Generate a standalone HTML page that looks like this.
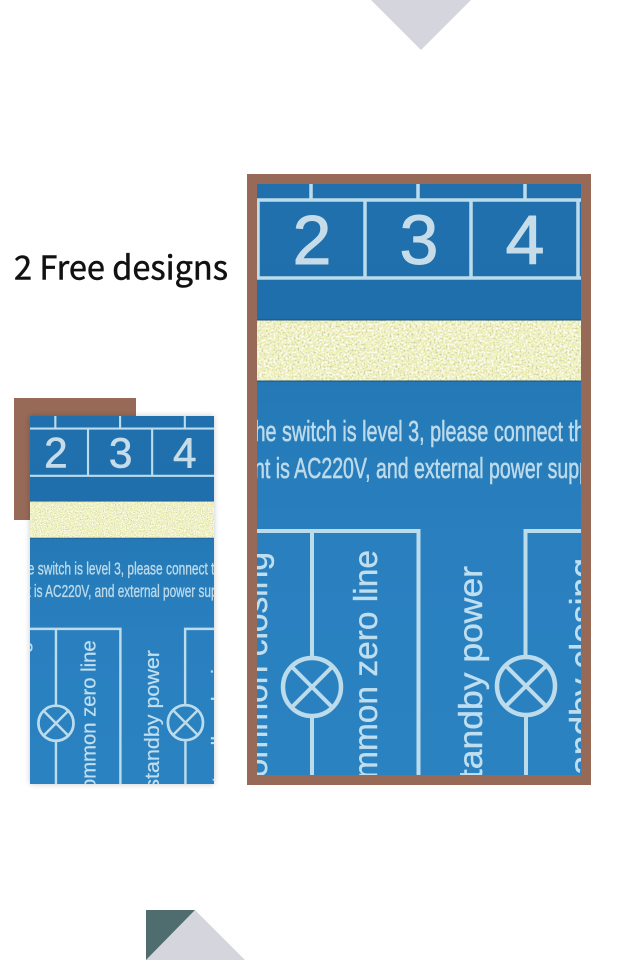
<!DOCTYPE html>
<html>
<head>
<meta charset="utf-8">
<style>
html,body{margin:0;padding:0;background:#fff;width:640px;height:960px;overflow:hidden}
svg{display:block}
.l{stroke:#bcdcec;fill:none}
.n{font-family:"Liberation Sans",sans-serif;font-size:70px;fill:#c6dde9;stroke:#c6dde9;stroke-width:1px;text-anchor:middle}
.t{font-family:"Liberation Sans",sans-serif;font-size:29px;fill:#bcdaea;stroke:#bcdaea;stroke-width:.6px}
.r{font-family:"Liberation Sans",sans-serif;font-size:33.5px;fill:#bfdeef;stroke:#bfdeef;stroke-width:.4px;text-anchor:end}
</style>
</head>
<body>
<svg width="640" height="960" viewBox="0 0 640 960" xmlns="http://www.w3.org/2000/svg">
<defs>
<linearGradient id="bg" x1="0" y1="0" x2="0" y2="1">
<stop offset="0" stop-color="#1f70ad"/>
<stop offset="0.24" stop-color="#1f6fad"/>
<stop offset="0.35" stop-color="#2479b6"/>
<stop offset="0.6" stop-color="#2a80bf"/>
<stop offset="1" stop-color="#2b82c1"/>
</linearGradient>
<filter id="speck" x="0" y="0" width="100%" height="100%">
<feTurbulence type="fractalNoise" baseFrequency="0.5" numOctaves="3" seed="4" result="n"/>
<feColorMatrix in="n" type="matrix" values="0 0 0 0 0.6  0 0 0 0 0.62  0 0 0 0 0.35  4 0 0 0 -2.1" result="d"/>
<feColorMatrix in="n" type="matrix" values="0 0 0 0 1  0 0 0 0 1  0 0 0 0 0.95  0 5 0 0 -2.3" result="w"/>
<feMerge result="m"><feMergeNode in="SourceGraphic"/><feMergeNode in="w"/><feMergeNode in="d"/></feMerge>
<feComposite in="m" in2="SourceGraphic" operator="in"/>
</filter>
<filter id="sh" x="-10%" y="-10%" width="120%" height="120%">
<feGaussianBlur stdDeviation="3"/>
</filter>
<clipPath id="cl"><rect x="257" y="184" width="324" height="591"/></clipPath>
<clipPath id="cs"><rect x="30" y="416" width="184" height="368"/></clipPath>
</defs>

<rect width="640" height="960" fill="#fff"/>

<polygon points="371,0 471,0 421,50" fill="#d5d5dd"/>
<polygon points="195,910 245,960 146,960" fill="#d5d5dd"/>
<polygon points="146,910 195,910 146,960" fill="#4f6d6f"/>

<text x="14" y="279.5" font-family="'Noto Sans CJK SC','Liberation Sans',sans-serif" font-size="33" fill="#111" stroke="#111" stroke-width="0.5" textLength="214" lengthAdjust="spacingAndGlyphs">2 Free designs</text>

<rect x="14" y="398" width="122" height="122" fill="#966a56"/>
<rect x="30" y="416" width="184" height="368" fill="#000" opacity="0.22" filter="url(#sh)"/>

<!-- small picture -->
<g clip-path="url(#cs)">
<g transform="translate(-132.8 307.6) scale(0.605)">
<rect x="250" y="170" width="340" height="625" fill="url(#bg)"/>
<rect x="250" y="320" width="340" height="61" fill="#eef0b4" filter="url(#speck)"/>
<path d="M250 320H590M250 381H590" stroke="#1b4f75" stroke-width="1"/>
<path class="l" stroke-width="3.5" d="M250 200H590M250 278H590M311 170V200M418 170V200M525 170V200M258 200V278M365 200V278M471 200V278M578 200V278"/>
<text class="n" x="312" y="264">2</text>
<text class="n" x="419" y="264">3</text>
<text class="n" x="525" y="264">4</text>
<text class="t" x="249" y="441" textLength="336" lengthAdjust="spacingAndGlyphs">the switch is level 3, please connect th</text>
<text class="t" x="254" y="478" textLength="336" lengthAdjust="spacingAndGlyphs">nt is AC220V, and external power supp</text>
<path class="l" stroke-width="4" d="M250 531H418.5V795M312 531V656M312 718V795M581 531H525.5V655M526 717V795"/>
<circle class="l" cx="312" cy="687" r="29" stroke-width="4.5"/>
<path class="l" stroke-width="4" d="M292 667L332 707M332 667L292 707"/>
<circle class="l" cx="526" cy="686" r="29" stroke-width="4.5"/>
<path class="l" stroke-width="4" d="M506 666L546 706M546 666L506 706"/>
<text class="r" transform="translate(267 552) rotate(-90)">common closing</text>
<text class="r" transform="translate(377 550) rotate(-90)">common zero line</text>
<text class="r" transform="translate(482 566) rotate(-90) scale(1.06 1)">standby power</text>
<text class="r" transform="translate(593 558) rotate(-90) scale(1.06 1)">standby closing</text>
</g>
</g>

<!-- large picture -->
<rect x="247" y="174" width="344" height="611" fill="#966a56"/>
<g clip-path="url(#cl)">
<rect x="250" y="170" width="340" height="625" fill="url(#bg)"/>
<rect x="250" y="320" width="340" height="61" fill="#eef0b4" filter="url(#speck)"/>
<path d="M250 320H590M250 381H590" stroke="#1b4f75" stroke-width="1"/>
<path class="l" stroke-width="3.5" d="M250 200H590M250 278H590M311 170V200M418 170V200M525 170V200M258 200V278M365 200V278M471 200V278M578 200V278"/>
<text class="n" x="312" y="264">2</text>
<text class="n" x="419" y="264">3</text>
<text class="n" x="525" y="264">4</text>
<text class="t" x="249" y="441" textLength="336" lengthAdjust="spacingAndGlyphs">the switch is level 3, please connect th</text>
<text class="t" x="254" y="478" textLength="336" lengthAdjust="spacingAndGlyphs">nt is AC220V, and external power supp</text>
<path class="l" stroke-width="4" d="M250 531H418.5V795M312 531V656M312 718V795M581 531H525.5V655M526 717V795"/>
<circle class="l" cx="312" cy="687" r="29" stroke-width="4.5"/>
<path class="l" stroke-width="4" d="M292 667L332 707M332 667L292 707"/>
<circle class="l" cx="526" cy="686" r="29" stroke-width="4.5"/>
<path class="l" stroke-width="4" d="M506 666L546 706M546 666L506 706"/>
<text class="r" transform="translate(267 552) rotate(-90)">common closing</text>
<text class="r" transform="translate(377 550) rotate(-90)">common zero line</text>
<text class="r" transform="translate(482 566) rotate(-90) scale(1.06 1)">standby power</text>
<text class="r" transform="translate(593 558) rotate(-90) scale(1.06 1)">standby closing</text>
</g>
</svg>
</body>
</html>
